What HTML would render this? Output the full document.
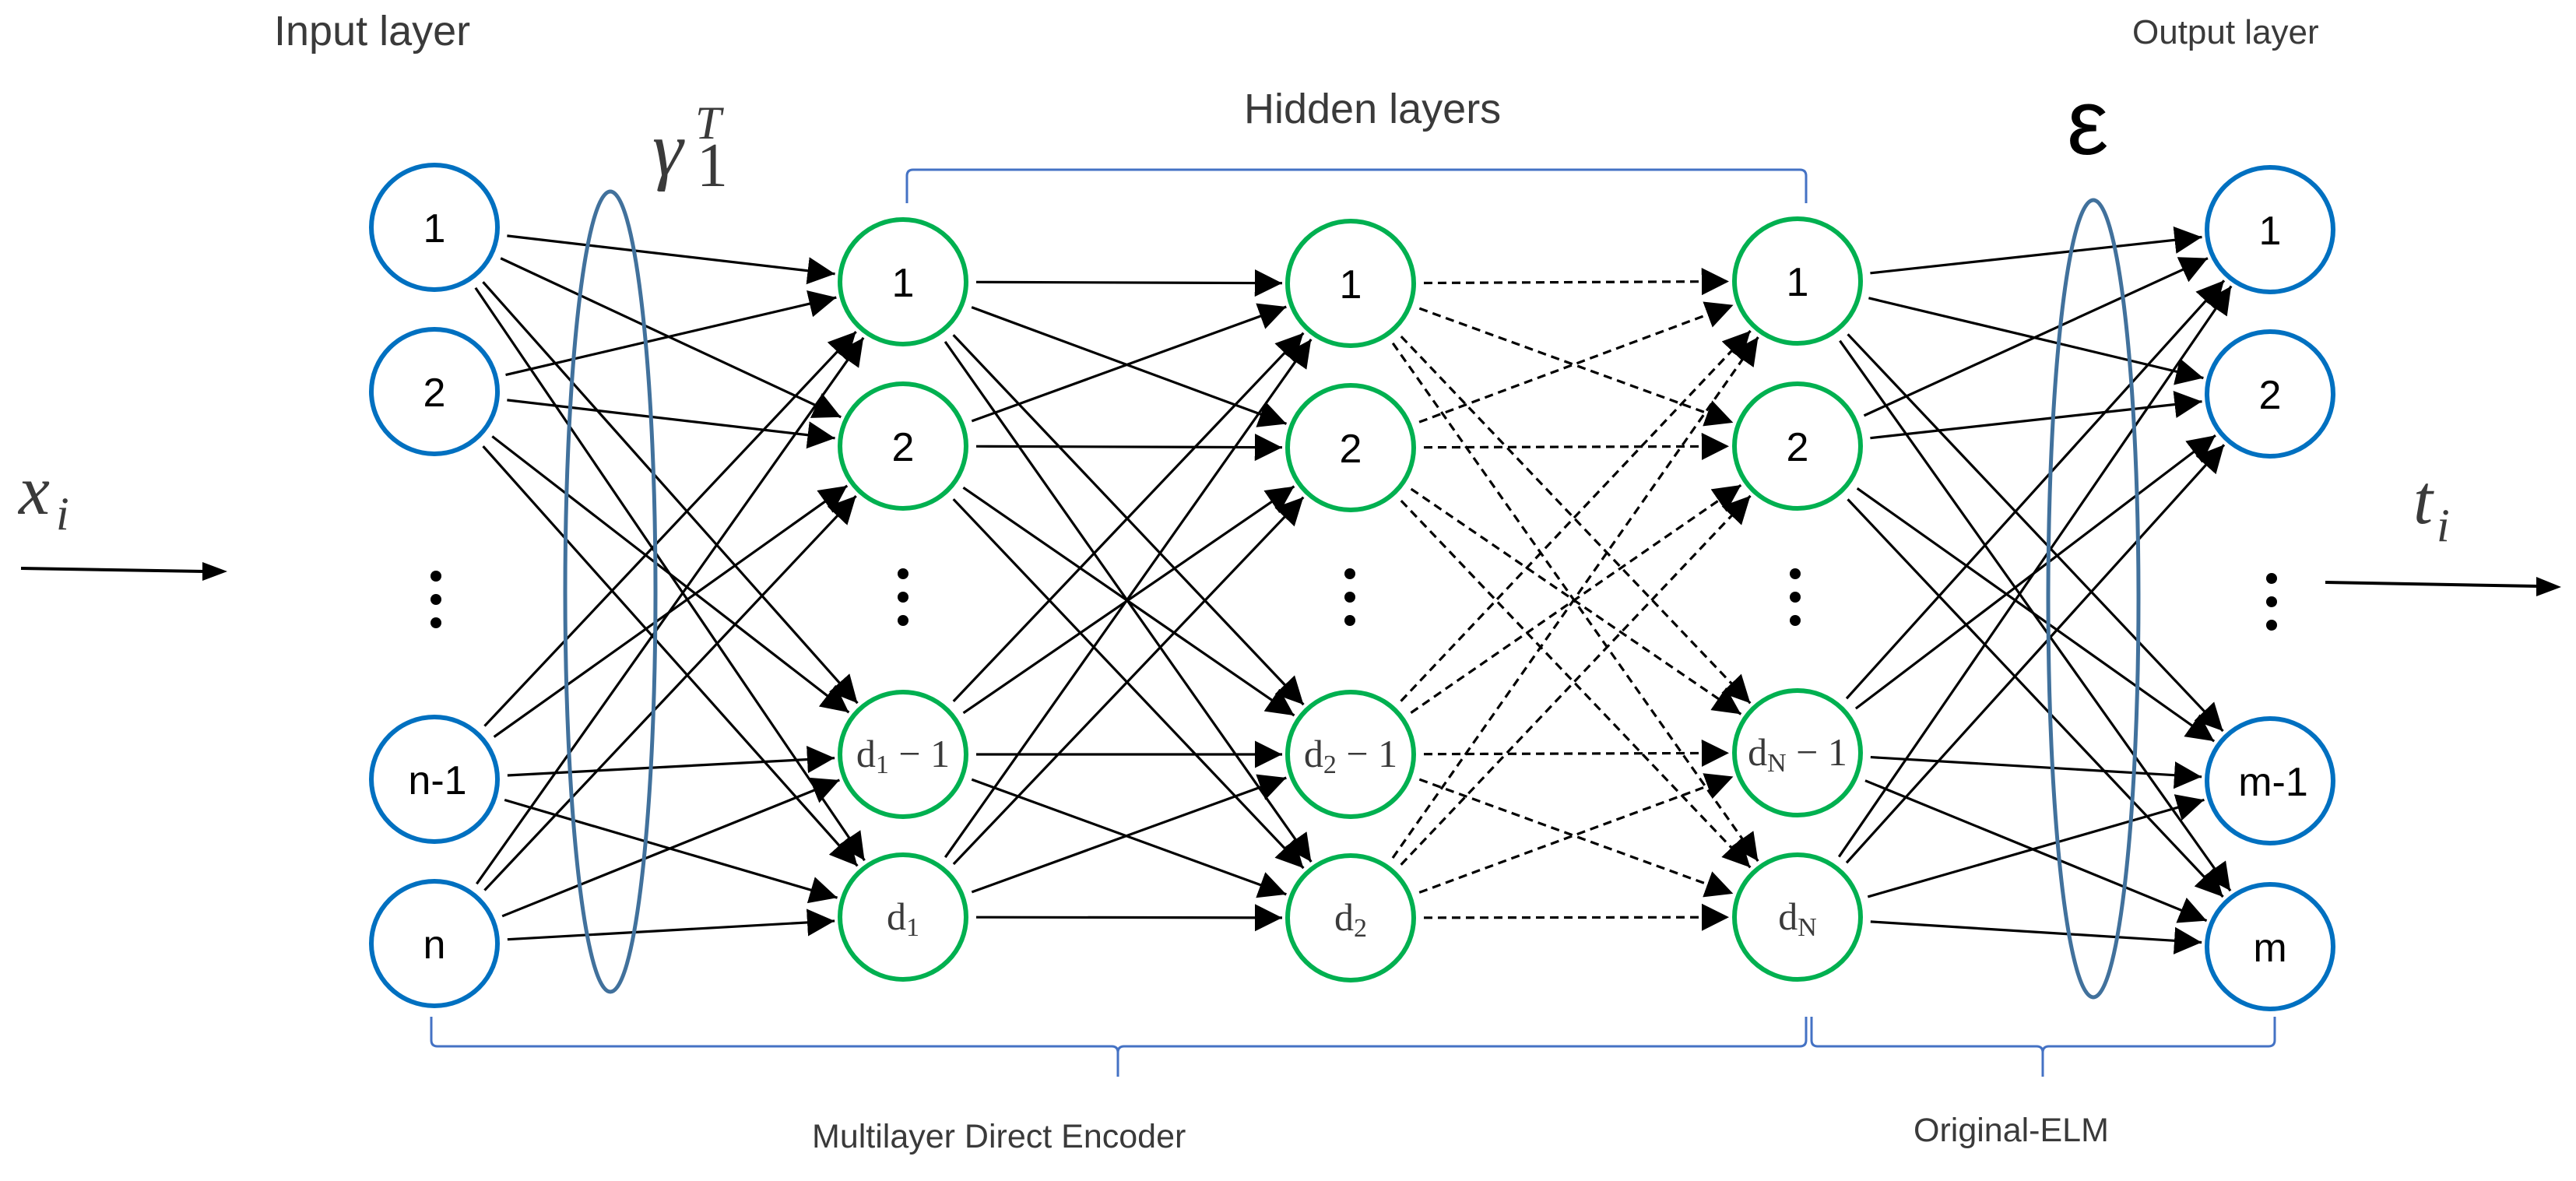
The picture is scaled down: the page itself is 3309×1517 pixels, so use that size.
<!DOCTYPE html>
<html><head><meta charset="utf-8">
<style>
html,body{margin:0;padding:0;background:#fff;}
svg{display:block;}
.lbl{font-family:"Liberation Sans",sans-serif;fill:#3a3a3a;}
.num{font-family:"Liberation Sans",sans-serif;fill:#000;font-size:52px;text-anchor:middle;}
.mth{font-family:"Liberation Serif",serif;fill:#3a3a3a;}
</style></head>
<body>
<svg id="s" width="3309" height="1517" viewBox="0 0 3309 1517" xmlns="http://www.w3.org/2000/svg">
<defs>
<marker id="ah" viewBox="0 0 10 10" refX="10" refY="5" markerWidth="11" markerHeight="11" markerUnits="strokeWidth" orient="auto">
<path d="M0,0 L10,5 L0,10 z" fill="#000"/>
</marker>
</defs>
<g id="edges"></g>
<ellipse cx="784" cy="760" rx="58" ry="514" fill="none" stroke="#41719C" stroke-width="5"/>
<ellipse cx="2689" cy="769" rx="58" ry="512" fill="none" stroke="#41719C" stroke-width="5"/>
<g fill="none" stroke="#4472C4" stroke-width="3">
<path d="M1165,261 L1165,226 Q1165,218 1173,218 L2312,218 Q2320,218 2320,226 L2320,261"/>
<path d="M554,1306 L554,1336 Q554,1344 562,1344 L1428,1344 Q1436,1344 1436,1352 L1436,1383 M1436,1352 Q1436,1344 1444,1344 L2312,1344 Q2320,1344 2320,1336 L2320,1306"/>
<path d="M2327,1306 L2327,1336 Q2327,1344 2335,1344 L2616,1344 Q2624,1344 2624,1352 L2624,1383 M2624,1352 Q2624,1344 2632,1344 L2914,1344 Q2922,1344 2922,1336 L2922,1306"/>
</g>
<g id="nodes"></g>
<g fill="#000">
<circle cx="560" cy="740" r="7"/><circle cx="560" cy="770" r="7"/><circle cx="560" cy="800" r="7"/>
<circle cx="1160" cy="737" r="7"/><circle cx="1160" cy="767" r="7"/><circle cx="1160" cy="797" r="7"/>
<circle cx="1734" cy="737" r="7"/><circle cx="1734" cy="767" r="7"/><circle cx="1734" cy="797" r="7"/>
<circle cx="2306" cy="737" r="7"/><circle cx="2306" cy="767" r="7"/><circle cx="2306" cy="797" r="7"/>
<circle cx="2918" cy="743" r="7"/><circle cx="2918" cy="773" r="7"/><circle cx="2918" cy="803" r="7"/>
</g>
<text class="lbl" x="352" y="58" style="font-size:54px">Input layer</text>
<text class="lbl" x="1598" y="158" style="font-size:54px">Hidden layers</text>
<text class="lbl" x="2739" y="56" style="font-size:44px">Output layer</text>
<text class="lbl" x="1043" y="1474" style="font-size:43px">Multilayer Direct Encoder</text>
<text class="lbl" x="2458" y="1466" style="font-size:43px">Original-ELM</text>
<text class="mth" x="838" y="225" font-size="100" font-style="italic">γ</text>
<text class="mth" x="895" y="239" font-size="80">1</text>
<text class="mth" x="893" y="178" font-size="60" font-style="italic">T</text>
<text x="2655" y="198" font-family="Liberation Sans,DejaVu Sans,sans-serif" font-size="120" fill="#000">ε</text>
<text class="mth" x="24" y="660" font-size="90" font-style="italic">x</text>
<text class="mth" x="72" y="680" font-size="60" font-style="italic">i</text>
<text class="mth" x="3100" y="672" font-size="90" font-style="italic">t</text>
<text class="mth" x="3130" y="695" font-size="60" font-style="italic">i</text>
<line x1="27" y1="730" x2="262" y2="734" stroke="#000" stroke-width="4"/>
<path d="M260,722 L292,734 L260,746 z" fill="#000"/>
<line x1="2987" y1="748" x2="3260" y2="753" stroke="#000" stroke-width="4"/>
<path d="M3258,741 L3290,754 L3258,766 z" fill="#000"/>
</svg>
<script>
var NS="http://www.w3.org/2000/svg";
var L=[
 {x:558,ys:[292,503,1001,1212],c:"#0070C0",t:["1","2","n-1","n"]},
 {x:1160,ys:[362,573,969,1178],c:"#00B050",t:["1","2","d1-1","d1"]},
 {x:1735,ys:[364,575,969,1179],c:"#00B050",t:["1","2","d2-1","d2"]},
 {x:2309,ys:[361,573,967,1178],c:"#00B050",t:["1","2","dN-1","dN"]},
 {x:2916,ys:[295,506,1003,1216],c:"#0070C0",t:["1","2","m-1","m"]}
];
var R=80;
var eg=document.getElementById("edges"),ng=document.getElementById("nodes");
for(var k=0;k<4;k++){
 var A=L[k],B=L[k+1];
 for(var i=0;i<4;i++)for(var j=0;j<4;j++){
  var x1=A.x,y1=A.ys[i],x2=B.x,y2=B.ys[j];
  var dx=x2-x1,dy=y2-y1,d=Math.sqrt(dx*dx+dy*dy),ux=dx/d,uy=dy/d;
  var l=document.createElementNS(NS,"line");
  l.setAttribute("x1",x1+ux*(R+14));l.setAttribute("y1",y1+uy*(R+14));
  l.setAttribute("x2",x2-ux*(R+8));l.setAttribute("y2",y2-uy*(R+8));
  l.setAttribute("stroke","#000");l.setAttribute("stroke-width","3.2");
  l.setAttribute("marker-end","url(#ah)");
  if(k==2)l.setAttribute("stroke-dasharray","11 7");
  eg.appendChild(l);
 }
}
for(var k=0;k<5;k++){
 var A=L[k];
 for(var i=0;i<4;i++){
  var e=document.createElementNS(NS,"ellipse");
  e.setAttribute("cx",A.x);e.setAttribute("cy",A.ys[i]);
  e.setAttribute("rx",81);e.setAttribute("ry",80);
  e.setAttribute("fill","#fff");e.setAttribute("stroke",A.c);e.setAttribute("stroke-width","6");
  ng.appendChild(e);
  var s=A.t[i];
  if(s.charAt(0)=="d"){
   var sub=s.charAt(1),minus=s.length>2;
   var t=document.createElementNS(NS,"text");
   t.setAttribute("class","mth");t.setAttribute("font-size","50");
   t.setAttribute("text-anchor","middle");
   t.setAttribute("x",A.x);t.setAttribute("y",A.ys[i]+16);
   t.innerHTML='d<tspan font-size="34" dy="8">'+sub+'</tspan>'+(minus?'<tspan dy="-8"> − 1</tspan>':'');
   ng.appendChild(t);
  }else{
   var t=document.createElementNS(NS,"text");
   t.setAttribute("class","num");
   t.setAttribute("x",A.x+(s.length>1?4:0));t.setAttribute("y",A.ys[i]+19);
   t.textContent=s;ng.appendChild(t);
  }
 }
}
</script>
</body></html>
